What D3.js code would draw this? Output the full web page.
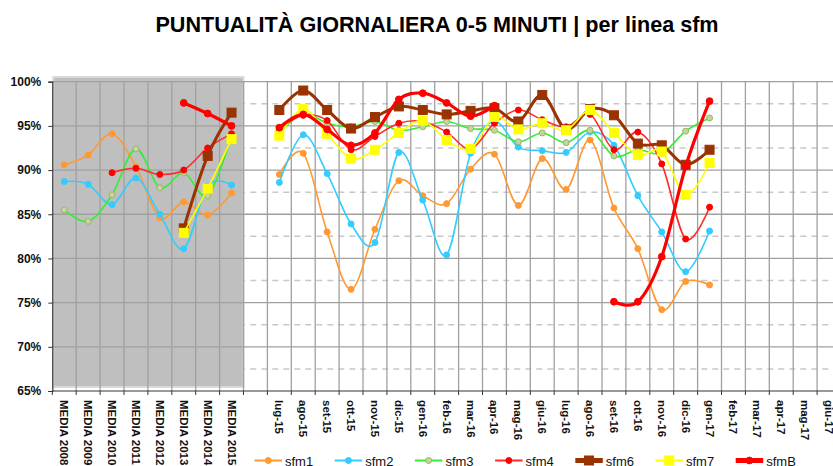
<!DOCTYPE html>
<html>
  <head>
    <meta charset="utf-8">
    <title>Puntualita giornaliera</title>
    <script src="https://cdn.jsdelivr.net/npm/d3@7"></script>
    <style>
      body { margin: 0; background: #ffffff; }
      svg { display: block; font-family: "Liberation Sans", Arial, sans-serif; }
    </style>
  </head>
  <body>
    <div id="chart"></div>
    <script>
      // categories: 8 yearly averages, one empty slot, then the months
      var mediaLabels = ["MEDIA 2008", "MEDIA 2009", "MEDIA 2010", "MEDIA 2011", "MEDIA 2012", "MEDIA 2013", "MEDIA 2014", "MEDIA 2015"];
      var monthLabels = ["lug-15", "ago-15", "set-15", "ott-15", "nov-15", "dic-15",
                         "gen-16", "feb-16", "mar-16", "apr-16", "mag-16", "giu-16",
                         "lug-16", "ago-16", "set-16", "ott-16", "nov-16", "dic-16",
                         "gen-17", "feb-17", "mar-17", "apr-17", "mag-17", "giu-17"];
      var categories = mediaLabels.concat([""]).concat(monthLabels);

      var yTicks = [65, 70, 75, 80, 85, 90, 95, 100];
      var yHalfTicks = [67.5, 72.5, 77.5, 82.5, 87.5, 92.5, 97.5];

      // values in %, media years first, then null for the empty slot, then months
      var sfm1 = [90.6, 91.7, 94.1, 90.4, 84.6, 86.4, 84.9, 87.4, null,
                  89.5, 91.9, 83.0, 76.5, 83.3, 88.8, 87.1, 86.2, 90.1, 91.8, 86.0, 91.3,
                  87.8, 93.4, 85.7, 81.1, 74.2, 77.4, 77.0, null, null, null, null, null];
      var sfm2 = [88.7, 88.4, 86.1, 89.1, 85.0, 81.1, 88.2, 88.3, null,
                  88.6, 94.0, 89.6, 83.9, 81.8, 92.0, 86.6, 80.4, 91.9, 95.5, 92.6, 92.2,
                  92.0, 94.3, 92.8, 87.1, 83.0, 78.5, 83.1, null, null, null, null, null];
      var sfm3 = [85.5, 84.2, 87.2, 92.4, 88.0, 89.7, 87.1, 93.9, null,
                  94.2, 96.4, 95.3, 94.9, 95.5, 94.5, 94.9, 95.5, 94.7, 94.5, 93.2, 94.2,
                  93.1, 94.5, 91.6, 92.3, 91.9, 94.4, 95.9, null, null, null, null, null];
      var sfm4 = [null, null, 89.7, 90.2, 89.5, 90.0, 92.5, 94.1, null,
                  94.6, 96.2, 95.6, 92.3, 93.8, 95.3, 95.5, 94.3, 92.4, 95.3, 96.8, 95.7,
                  94.9, 96.3, 92.3, 94.3, 90.7, 82.2, 85.8, null, null, null, null, null];
      var sfm6 = [null, null, null, null, null, 83.4, 91.6, 96.5, null,
                  96.8, 99.0, 96.8, 94.7, 96.0, 97.2, 96.8, 96.3, 96.7, 97.0, 95.5, 98.5,
                  94.6, 96.9, 96.2, 93.0, 92.8, 90.6, 92.3, null, null, null, null, null];
      var sfm7 = [null, null, null, null, null, 82.9, 87.9, 93.5, null,
                  93.9, 96.9, 94.1, 91.3, 92.3, 94.2, 95.6, 93.4, 92.4, 96.0, 94.6, 95.3,
                  94.5, 96.8, 94.2, 91.7, 92.1, 87.2, 90.8, null, null, null, null, null];
      var sfmB = [null, null, null, null, null, 97.6, 96.4, 95.0, null,
                  94.8, 96.3, 94.6, 92.8, 94.2, 98.0, 98.7, 97.6, 96.1, 97.3, null, null,
                  null, null, 75.1, 75.1, 80.2, 90.4, 97.8, null, null, null, null, null];

      var seriesNames = ["sfm1", "sfm2", "sfm3", "sfm4", "sfm6", "sfm7", "sfmB"];
      var seriesValues = [sfm1, sfm2, sfm3, sfm4, sfm6, sfm7, sfmB];

      // look of each series
      var styles = {
        sfm1: {color: "#ff9933", width: 1.6, marker: "circle", r: 3, fill: "#ff9933", stroke: "#ff9933"},
        sfm2: {color: "#33ccff", width: 1.6, marker: "circle", r: 3, fill: "#33ccff", stroke: "#33ccff"},
        sfm3: {color: "#33ee33", width: 1.6, marker: "circle", r: 3, fill: "#c4d79b", stroke: "#9cb36a"},
        sfm4: {color: "#ff2a2a", width: 1.6, marker: "circle", r: 3, fill: "#ff0000", stroke: "#ff0000"},
        sfm6: {color: "#993300", width: 3, marker: "square", r: 4.5, fill: "#993300", stroke: "#993300"},
        sfm7: {color: "#ffff00", width: 1.6, marker: "square", r: 4.5, fill: "#ffff00", stroke: "#ffff00"},
        sfmB: {color: "#ff0000", width: 3.2, marker: "circle", r: 3.4, fill: "#ff0000", stroke: "#ff0000"}
      };

      var W = 833, H = 466;
      var plotLeft = 52.3, step = 23.9;
      var plotTop = 81.7, plotBottom = 391;

      var svg = d3.select("#chart").append("svg")
          .attr("width", W).attr("height", H);

      var x = d3.scaleBand()
          .domain(d3.range(categories.length))
          .range([plotLeft, plotLeft + step * categories.length])
          .padding(0);

      var y = d3.scaleLinear().domain([65, 100]).range([plotBottom, plotTop]);

      var cx = function (i) { return x(i) + x.bandwidth() / 2; };

      // title
      svg.append("text")
          .attr("x", 437).attr("y", 32)
          .attr("text-anchor", "middle")
          .style("font-size", "21.6px").style("font-weight", "bold")
          .attr("fill", "#000")
          .text("PUNTUALITÀ GIORNALIERA 0-5 MINUTI | per linea sfm");

      var grid = svg.append("g");
      var xRight = plotLeft + step * categories.length;

      // dashed half grid
      grid.selectAll("line.half").data(yHalfTicks).enter().append("line")
          .attr("class", "half")
          .attr("x1", plotLeft).attr("x2", xRight)
          .attr("y1", function (d) { return y(d); }).attr("y2", function (d) { return y(d); })
          .attr("stroke", "#c8c8c8").attr("stroke-width", 1.5)
          .attr("stroke-dasharray", "6,5");

      // gray box behind the yearly averages
      svg.append("rect")
          .attr("x", x(0) + 1).attr("y", 77)
          .attr("width", x(8) - x(0) - 1).attr("height", 387 - 77)
          .attr("fill", "#bfbfbf")
          .attr("stroke", "#d9d9d9").attr("stroke-width", 2);

      var grid2 = svg.append("g");
      grid2.selectAll("line.h").data(yTicks.slice(1)).enter().append("line")
          .attr("x1", plotLeft).attr("x2", xRight)
          .attr("y1", function (d) { return y(d); }).attr("y2", function (d) { return y(d); })
          .attr("stroke", "#a0a0a0").attr("stroke-width", 1.3);

      grid2.selectAll("line.v").data(d3.range(1, categories.length + 1)).enter().append("line")
          .attr("x1", function (i) { return plotLeft + step * i; })
          .attr("x2", function (i) { return plotLeft + step * i; })
          .attr("y1", plotTop).attr("y2", plotBottom)
          .attr("stroke", "#a0a0a0").attr("stroke-width", 1.3);

      // axes
      var yAxis = d3.axisLeft(y).tickValues(yTicks)
          .tickFormat(function (d) { return d + "%"; })
          .tickSize(4).tickPadding(7);
      var gy = svg.append("g").attr("transform", "translate(" + plotLeft + ",0)").call(yAxis);
      gy.select(".domain").attr("stroke", "#333").attr("stroke-width", 1.2);
      gy.selectAll(".tick line").attr("stroke", "#333");
      gy.selectAll("text")
          .style("font-size", "12px").style("font-weight", "bold")
          .style("font-family", "'Liberation Sans', Arial, sans-serif")
          .attr("fill", "#111");

      svg.append("line")
          .attr("x1", plotLeft).attr("x2", xRight)
          .attr("y1", plotBottom).attr("y2", plotBottom)
          .attr("stroke", "#333").attr("stroke-width", 1.2);

      svg.append("g").selectAll("line").data(d3.range(0, categories.length + 1)).enter().append("line")
          .attr("x1", function (i) { return plotLeft + step * i; })
          .attr("x2", function (i) { return plotLeft + step * i; })
          .attr("y1", plotBottom).attr("y2", plotBottom + 4)
          .attr("stroke", "#333").attr("stroke-width", 1);

      svg.append("g").selectAll("text").data(d3.range(categories.length)).enter().append("text")
          .attr("transform", function (i) { return "translate(" + cx(i) + ",400) rotate(90)"; })
          .attr("dy", "0.35em")
          .attr("text-anchor", "start")
          .style("font-size", "11.5px").style("font-weight", "bold")
          .attr("fill", "#111")
          .text(function (i) { return categories[i]; });

      // series
      var line = d3.line()
          .defined(function (d) { return d.v != null; })
          .x(function (d) { return cx(d.i); })
          .y(function (d) { return y(d.v); })
          .curve(d3.curveCardinal.tension(0));

      function drawMarker(g, st, px, py) {
        if (st.marker == "square") {
          g.append("rect")
              .attr("x", px - st.r).attr("y", py - st.r)
              .attr("width", st.r * 2).attr("height", st.r * 2)
              .attr("fill", st.fill).attr("stroke", st.stroke);
        } else {
          g.append("circle")
              .attr("cx", px).attr("cy", py).attr("r", st.r)
              .attr("fill", st.fill).attr("stroke", st.stroke).attr("stroke-width", 1);
        }
      }

      seriesNames.forEach(function (name, k) {
        var st = styles[name];
        var pts = seriesValues[k].map(function (v, i) { return {i: i, v: v}; });
        var g = svg.append("g");
        g.append("path")
            .attr("d", line(pts))
            .attr("fill", "none")
            .attr("stroke", st.color)
            .attr("stroke-width", st.width)
            .attr("stroke-linejoin", "round");
        pts.filter(function (d) { return d.v != null; }).forEach(function (d) {
          drawMarker(g, st, cx(d.i), y(d.v));
        });
      });

      // legend
      var legend = svg.append("g");
      seriesNames.forEach(function (name, k) {
        var st = styles[name];
        var lx = 254.5 + k * 80.2, ly = 460.5;
        var g = legend.append("g");
        g.append("line")
            .attr("x1", lx).attr("x2", lx + 27.5)
            .attr("y1", ly).attr("y2", ly)
            .attr("stroke", st.color)
            .attr("stroke-width", name == "sfm6" ? 5 : (name == "sfmB" ? 5 : 2));
        drawMarker(g, st, lx + 13.75, ly);
        g.append("text")
            .attr("x", lx + 30.5).attr("y", 465.5)
            .style("font-size", "13px")
            .attr("fill", "#111")
            .text(name);
      });
    </script>
  </body>
</html>
